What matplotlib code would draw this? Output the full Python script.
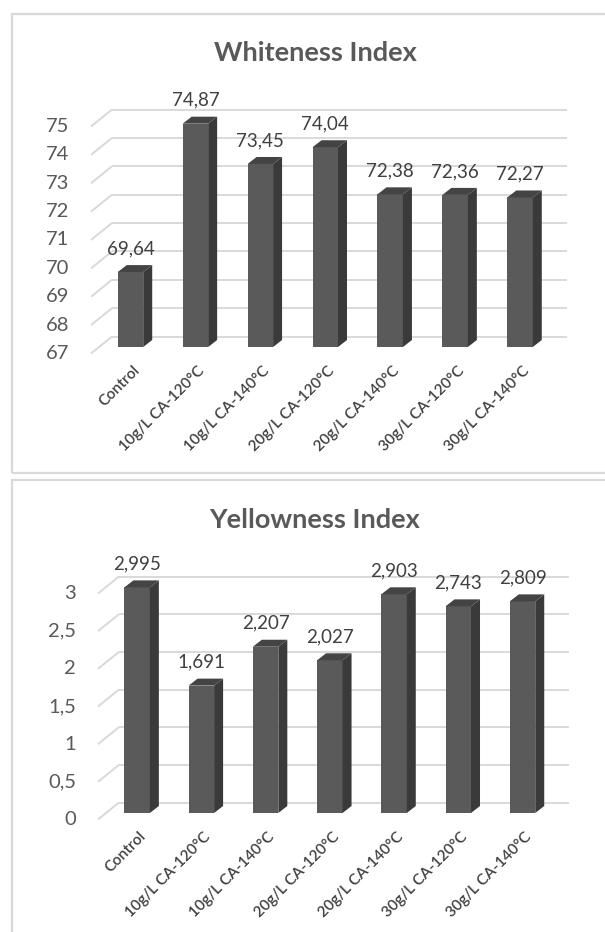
import matplotlib
matplotlib.use("Agg")
import matplotlib.pyplot as plt
from matplotlib.patches import Polygon, Rectangle

# ---- data -------------------------------------------------------------
categories = ["Control", "10g/L CA-120°C", "10g/L CA-140°C", "20g/L CA-120°C",
              "20g/L CA-140°C", "30g/L CA-120°C", "30g/L CA-140°C"]
whiteness = [69.64, 74.87, 73.45, 74.04, 72.38, 72.36, 72.27]
yellowness = [2.995, 1.691, 2.207, 2.027, 2.903, 2.743, 2.809]
whiteness_ticks = [67, 68, 69, 70, 71, 72, 73, 74, 75]
yellowness_ticks = [0, 0.5, 1, 1.5, 2, 2.5, 3]

# ---- style ------------------------------------------------------------
plt.rcParams["font.family"] = ["Lato", "DejaVu Sans"]
FRONT = "#5a5a5a"
SIDE = "#3a3a3a"
TOP = "#444444"
GRID = "#d9d9d9"
TXT = "#595959"
LBL = "#404040"

W, H = 605, 932
fig = plt.figure(figsize=(W / 100, H / 100), dpi=100)
fig.patch.set_facecolor("white")


def fmt(v):
    return f"{v:g}".replace(".", ",")


def panel(box, title, title_y, values, ticks):
    left, right, ybot, ytop = box
    ax = fig.add_axes([left / W, 1 - ybot / H, (right - left) / W, (ybot - ytop) / H])
    n = len(values)
    ax.set_xlim(-0.5, n - 0.5)
    ax.set_ylim(ticks[0], ticks[-1])
    ax.axis("off")
    base = ticks[0]

    inv = ax.transData.inverted()

    def d(dx, dy):
        x0, y0 = inv.transform((0, 0))
        x1, y1 = inv.transform((dx, dy))
        return x1 - x0, y1 - y0

    bx, by = d(14, 10.5)     # back wall offset
    fx, fy = d(-7, -6.5)     # front floor edge offset
    gap, _ = d(-22, 0)
    bar_w, _ = d(25.5, 0)
    ddx, ddy = d(9, 7)       # bar depth
    _, lab_up = d(0, 18)
    _, cat_dn = d(0, -10)
    cat_dx, _ = d(2, 0)

    # back wall gridlines and side-wall diagonals
    for t in ticks:
        ax.plot([-0.5 + bx, n - 0.5 + bx], [t + by, t + by], color=GRID, lw=1.4,
                zorder=1, clip_on=False, solid_capstyle="butt")
        ax.plot([-0.5 + fx, -0.5 + bx], [t + fy, t + by], color=GRID, lw=1.4,
                zorder=1, clip_on=False, solid_capstyle="butt")
        ax.text(-0.5 + fx + gap, t + fy, fmt(t), ha="right", va="center",
                fontsize=14.5, color=TXT)

    # 3-D style columns
    xs = list(range(n))
    ax.bar(xs, [v - base for v in values], bottom=base, width=bar_w,
           color=FRONT, zorder=3, clip_on=False, linewidth=0)
    for x, v in zip(xs, values):
        r = x + bar_w / 2
        l = x - bar_w / 2
        ax.add_patch(Polygon([(r, base), (r + ddx, base + ddy), (r + ddx, v + ddy), (r, v)],
                             closed=True, facecolor=SIDE, edgecolor="none",
                             zorder=3, clip_on=False))
        ax.add_patch(Polygon([(l, v), (r, v), (r + ddx, v + ddy), (l + ddx, v + ddy)],
                             closed=True, facecolor=TOP, edgecolor="none",
                             zorder=3, clip_on=False))
        ax.text(x, v + lab_up, fmt(v), ha="center", va="baseline",
                fontsize=13.5, color=LBL)

    for x, c in zip(xs, categories):
        ax.text(x + cat_dx, base + fy + cat_dn, c, rotation=45, ha="right", va="top",
                rotation_mode="anchor", fontsize=11, fontweight="semibold", color=LBL)

    fig.text(315 / W, 1 - title_y / H, title, ha="center", va="center",
             fontsize=19.5, fontweight="bold", color=TXT)


# chart frames
fig.add_artist(Rectangle((12 / W, 1 - 473 / H), (W + 20) / W, (473 - 14) / H,
                         transform=fig.transFigure, fill=False, ec="#d9d9d9", lw=1.6))
fig.add_artist(Rectangle((12 / W, -0.1), (W + 20) / W, 0.1 + (H - 480) / H,
                         transform=fig.transFigure, fill=False, ec="#d9d9d9", lw=1.6))

panel((98, 552.5, 347, 120), "Whiteness Index", 53, whiteness, whiteness_ticks)
panel((105, 554.6, 813, 587), "Yellowness Index", 520, yellowness, yellowness_ticks)

fig.savefig("out.png", dpi=100, facecolor="white")
